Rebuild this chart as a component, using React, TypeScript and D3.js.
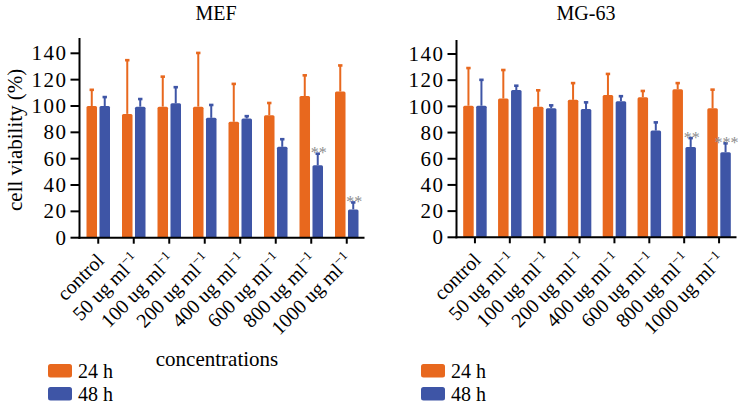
import React from 'react';
import * as d3 from 'd3';

// concentrations on the x axis
const categories = ['control', '50', '100', '200', '400', '600', '800', '1000'];
const series = ['24 h', '48 h'];
const yTicks = [0, 20, 40, 60, 80, 100, 120, 140];

// MEF panel, mean and upper error value (%)
const mef24 = [100, 94, 99.5, 99.5, 88, 93, 107.5, 111];
const mef24Err = [112.5, 135, 122.5, 140.5, 117, 102.5, 123.5, 131];
const mef48 = [100, 99.5, 102, 91, 90.5, 69, 55, 21.5];
const mef48Err = [107, 105.5, 114.5, 101, 92.5, 75, 64, 27];
const mefSig = ['', '', '', '', '', '', '**', '**'];

// MG-63 panel
const mg24 = [100.5, 106, 99.7, 105, 108.7, 107, 113, 98.5];
const mg24Err = [129.5, 128, 112.5, 118, 125, 112, 118, 113];
const mg48 = [100.5, 112.5, 98.5, 98, 104, 81.5, 69, 65];
const mg48Err = [120.5, 116, 101, 103.3, 108, 88, 76, 72];
const mgSig = ['', '', '', '', '', '', '**', '***'];

const ORANGE = '#e8681e';
const BLUE = '#3e55a6';
const FONT = 'Liberation Serif';

const T = ({ children, ...rest }) => (
  <text fontFamily={FONT} {...rest}>{children}</text>
);

const Panel = ({ title, titleX, x0, x1, y0, y140, yTop, vals, showYTitle, showXTitle, legendX }) => {
  const x = d3.scaleBand().domain(categories).range([x0, x1]);
  const xs = d3.scaleBand().domain(series).range([-11.75, 11.75]).paddingInner(0.19);
  const y = d3.scaleLinear().domain([0, 140]).range([y0, y140]);
  const colors = [ORANGE, BLUE];
  const bw = xs.bandwidth();
  const axisX = x0 - 1;

  return (
    <g>
      <T x={titleX} y={20} fontSize={20} textAnchor="middle">{title}</T>
      {showYTitle && (
        <T transform={`translate(22,${(y0 + yTop) / 2 + 2}) rotate(-90)`} fontSize={21} textAnchor="middle">
          cell viability (%)
        </T>
      )}
      {/* bars + upper error bars */}
      {categories.map((c, i) =>
        series.map((s, k) => {
          const v = vals[k * 2][i];
          const e = vals[k * 2 + 1][i];
          const bx = x(c) + x.bandwidth() / 2 + xs(s);
          const cx = bx + bw / 2;
          return (
            <g key={c + s}>
              <line x1={cx} x2={cx} y1={y(v)} y2={y(e)} stroke={colors[k]} strokeWidth={2} />
              <rect x={cx - 2.2} y={y(e) - 1} width={4.4} height={2.6} fill={colors[k]} />
              <rect x={bx} y={y(v)} width={bw} height={y0 - y(v)} fill={colors[k]} rx={1.5} />
            </g>
          );
        })
      )}
      {/* significance marks */}
      {categories.map((c, i) => {
        const lab = vals[4][i];
        if (!lab) return null;
        const cx = x(c) + x.bandwidth() / 2 + xs('48 h') + bw / 2;
        return (
          <T key={'s' + c} x={cx + 1} y={y(vals[3][i]) + 5} fontSize={16} fill="#8c8c8c" textAnchor="middle">
            {lab}
          </T>
        );
      })}
      {/* y axis */}
      <line x1={axisX} x2={axisX} y1={yTop} y2={y0 + 1} stroke="#000" strokeWidth={2} />
      {yTicks.map(t => (
        <g key={t}>
          <line x1={axisX - 9} x2={axisX} y1={y(t)} y2={y(t)} stroke="#000" strokeWidth={2} />
          <T x={axisX - 12} y={y(t)} dy="0.34em" fontSize={21} textAnchor="end" letterSpacing={1.5}>
            {t}
          </T>
        </g>
      ))}
      {/* x axis */}
      <line x1={axisX - 1} x2={x1} y1={y0} y2={y0} stroke="#000" strokeWidth={2} />
      {categories.map(c => {
        const cx = x(c) + x.bandwidth() / 2;
        return (
          <g key={'x' + c}>
            <line x1={cx} x2={cx} y1={y0} y2={y0 + 6} stroke="#000" strokeWidth={2} />
            <T transform={`translate(${cx + 7},${y0 + 24}) rotate(-45)`} fontSize={20} textAnchor="end">
              {c === 'control' ? (
                'control'
              ) : (
                <>
                  <tspan>{c} ug ml</tspan>
                  <tspan dy={-8} fontSize={13}>−1</tspan>
                </>
              )}
            </T>
          </g>
        );
      })}
      {showXTitle && (
        <T x={217} y={366} fontSize={21} textAnchor="middle">concentrations</T>
      )}
      {/* legend */}
      {series.map((s, k) => (
        <g key={'l' + s} transform={`translate(${legendX},${364 + k * 23})`}>
          <rect x={0} y={0} width={24} height={13.5} rx={2.5} fill={colors[k]} />
          <T x={30} y={13.5} fontSize={20}>{s}</T>
        </g>
      ))}
    </g>
  );
};

export default function App() {
  return (
    <svg width={738} height={406} style={{ position: 'absolute', left: 0, top: 0, background: '#fff' }}>
      <Panel
        title="MEF"
        titleX={216}
        x0={80.5}
        x1={364.5}
        y0={237.7}
        y140={53.3}
        yTop={38}
        vals={[mef24, mef24Err, mef48, mef48Err, mefSig]}
        showYTitle
        showXTitle
        legendX={48}
      />
      <Panel
        title="MG-63"
        titleX={586}
        x0={457.5}
        x1={736.5}
        y0={237.3}
        y140={54}
        yTop={40}
        vals={[mg24, mg24Err, mg48, mg48Err, mgSig]}
        showYTitle={false}
        showXTitle={false}
        legendX={421}
      />
    </svg>
  );
}
